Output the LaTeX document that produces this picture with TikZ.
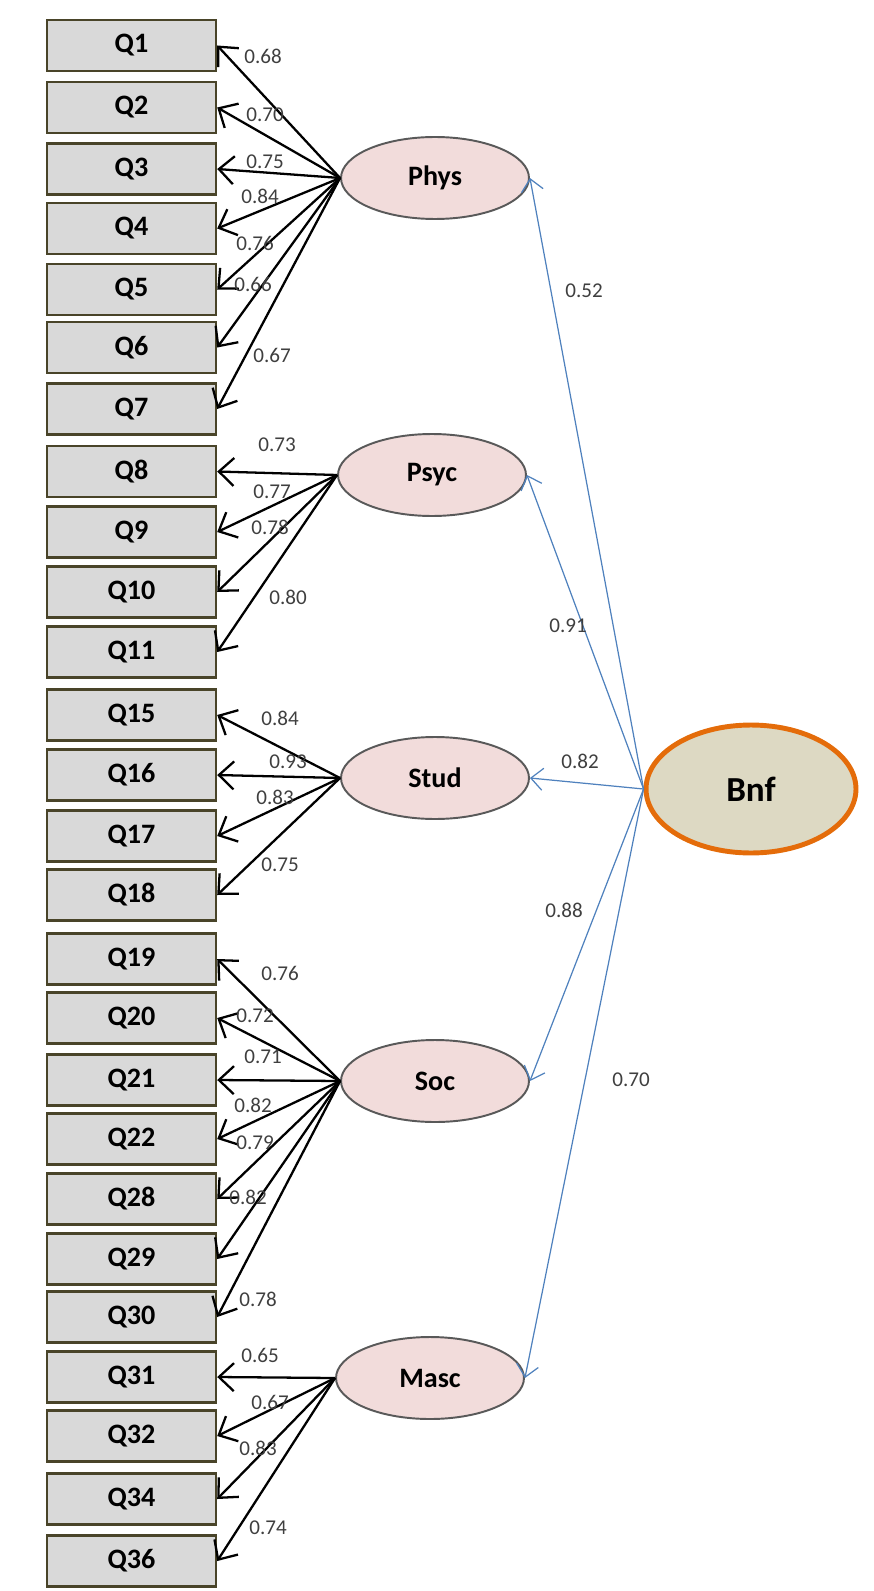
\documentclass[tikz,border=0pt]{standalone}
\usepackage{fontspec}
\setmainfont{Carlito}
\usepackage{tikz}
\usetikzlibrary{shapes.geometric}
\usetikzlibrary{arrows.meta}
\definecolor{boxgray}{HTML}{D9D9D9}
\definecolor{boxline}{HTML}{494429}
\definecolor{factorfill}{HTML}{F2DCDB}
\definecolor{factorline}{HTML}{595959}
\definecolor{bnffill}{HTML}{DDD9C3}
\definecolor{bnfline}{HTML}{E46C0A}
\definecolor{pathblue}{HTML}{4F81BD}
\definecolor{coefgray}{HTML}{3F3F3F}
\tikzset{%
    item/.style={
		draw=boxline, fill=boxgray, line width=1.4pt,
		minimum width=3.38cm, minimum height=1.02cm, inner sep=0pt,
		font=\fontsize{16}{19}\selectfont\bfseries
	}
}
\tikzset{factor/.style={ellipse, draw=factorline, fill=factorfill, line width=1.1pt, minimum width=3.76cm, minimum height=1.64cm, inner sep=0pt, font=\fontsize{16}{19}\selectfont\bfseries}}
\tikzset{loading/.style={draw=black, line width=1.3pt, -{Straight Barb[length=3mm,width=5.6mm,line width=1.3pt]}}}
\tikzset{structural/.style={draw=pathblue, line width=0.7pt, -{Straight Barb[length=2.4mm,width=4.4mm,line width=0.7pt]}}}
\tikzset{coef/.style={text=coefgray, inner sep=0pt, font=\fontsize{12}{14}\selectfont}}

\begin{document}
\begin{tikzpicture}[x=0.02cm, y=-0.02cm]
		\useasboundingbox (0,0) rectangle (873,1591);

		% Items
		\node[item] (q1) at (131.5,45.5) {Q1};
		\node[item] (q2) at (131.5,107.5) {Q2};
		\node[item] (q3) at (131.5,169) {Q3};
		\node[item] (q4) at (131.5,228.5) {Q4};
		\node[item] (q5) at (131.5,289.5) {Q5};
		\node[item] (q6) at (131.5,347.5) {Q6};
		\node[item] (q7) at (131.5,409) {Q7};
		\node[item] (q8) at (131.5,471.5) {Q8};
		\node[item] (q9) at (131.5,532) {Q9};
		\node[item] (q10) at (131.5,592) {Q10};
		\node[item] (q11) at (131.5,652) {Q11};
		\node[item] (q15) at (131.5,715) {Q15};
		\node[item] (q16) at (131.5,775) {Q16};
		\node[item] (q17) at (131.5,836) {Q17};
		\node[item] (q18) at (131.5,895) {Q18};
		\node[item] (q19) at (131.5,959) {Q19};
		\node[item] (q20) at (131.5,1018) {Q20};
		\node[item] (q21) at (131.5,1080) {Q21};
		\node[item] (q22) at (131.5,1139) {Q22};
		\node[item] (q28) at (131.5,1199) {Q28};
		\node[item] (q29) at (131.5,1259) {Q29};
		\node[item] (q30) at (131.5,1317) {Q30};
		\node[item] (q31) at (131.5,1377) {Q31};
		\node[item] (q32) at (131.5,1436) {Q32};
		\node[item] (q34) at (131.5,1499) {Q34};
		\node[item] (q36) at (131.5,1561) {Q36};

		% Factors
		\node[factor] (phys) at (435,178) {Phys};
		\node[factor] (psyc) at (432,475) {Psyc};
		\node[factor] (stud) at (435,778) {Stud};
		\node[factor] (soc) at (435,1081) {Soc};
		\node[factor] (masc) at (430,1378) {Masc};
		\node[ellipse, draw=bnfline, fill=bnffill, line width=2.8pt, minimum width=4.2cm, minimum height=2.56cm, inner sep=0pt, font=\fontsize{20}{24}\selectfont\bfseries] (bnf) at (751,789) {Bnf};

		\draw[loading] (phys.west) -- (q1.east);
		\draw[loading] (phys.west) -- (q2.east);
		\draw[loading] (phys.west) -- (q3.east);
		\draw[loading] (phys.west) -- (q4.east);
		\draw[loading] (phys.west) -- (q5.east);
		\draw[loading] (phys.west) -- (q6.east);
		\draw[loading] (phys.west) -- (q7.east);

		\draw[loading] (psyc.west) -- (q8.east);
		\draw[loading] (psyc.west) -- (q9.east);
		\draw[loading] (psyc.west) -- (q10.east);
		\draw[loading] (psyc.west) -- (q11.east);

		\draw[loading] (stud.west) -- (q15.east);
		\draw[loading] (stud.west) -- (q16.east);
		\draw[loading] (stud.west) -- (q17.east);
		\draw[loading] (stud.west) -- (q18.east);

		\draw[loading] (soc.west) -- (q19.east);
		\draw[loading] (soc.west) -- (q20.east);
		\draw[loading] (soc.west) -- (q21.east);
		\draw[loading] (soc.west) -- (q22.east);
		\draw[loading] (soc.west) -- (q28.east);
		\draw[loading] (soc.west) -- (q29.east);
		\draw[loading] (soc.west) -- (q30.east);

		\draw[loading] (masc.west) -- (q31.east);
		\draw[loading] (masc.west) -- (q32.east);
		\draw[loading] (masc.west) -- (q34.east);
		\draw[loading] (masc.west) -- (q36.east);

		\draw[structural] (bnf.west) -- (phys.east);
		\draw[structural] (bnf.west) -- (psyc.east);
		\draw[structural] (bnf.west) -- (stud.east);
		\draw[structural] (bnf.west) -- (soc.east);
		\draw[structural] (bnf.west) -- (masc.east);

		% Loadings
		\node[coef] (lq1) at (263,56) {0.68};
		\node[coef] (lq2) at (265,115) {0.70};
		\node[coef] (lq3) at (265,162) {0.75};
		\node[coef] (lq4) at (260,196) {0.84};
		\node[coef] (lq5) at (255,243) {0.76};
		\node[coef] (lq6) at (253,284) {0.66};
		\node[coef] (lq7) at (272,355) {0.67};
		\node[coef] (lq8) at (277,445) {0.73};
		\node[coef] (lq9) at (272,492) {0.77};
		\node[coef] (lq10) at (270,527) {0.78};
		\node[coef] (lq11) at (288,597) {0.80};
		\node[coef] (lq15) at (280,718) {0.84};
		\node[coef] (lq16) at (288,762) {0.93};
		\node[coef] (lq17) at (275,797) {0.83};
		\node[coef] (lq18) at (280,865) {0.75};
		\node[coef] (lq19) at (280,973) {0.76};
		\node[coef] (lq20) at (255,1016) {0.72};
		\node[coef] (lq21) at (263,1057) {0.71};
		\node[coef] (lq22) at (253,1105) {0.82};
		\node[coef] (lq28) at (255,1143) {0.79};
		\node[coef] (lq29) at (248,1197) {0.82};
		\node[coef] (lq30) at (258,1299) {0.78};
		\node[coef] (lq31) at (260,1355) {0.65};
		\node[coef] (lq32) at (270,1402) {0.67};
		\node[coef] (lq34) at (258,1448) {0.83};
		\node[coef] (lq36) at (268,1528) {0.74};

		\node[coef] (lphys) at (584,291) {0.52};
		\node[coef] (lpsyc) at (568,626) {0.91};
		\node[coef] (lstud) at (580,761) {0.82};
		\node[coef] (lsoc) at (564,910) {0.88};
		\node[coef] (lmasc) at (631,1080) {0.70};

	\end{tikzpicture}
\end{document}
